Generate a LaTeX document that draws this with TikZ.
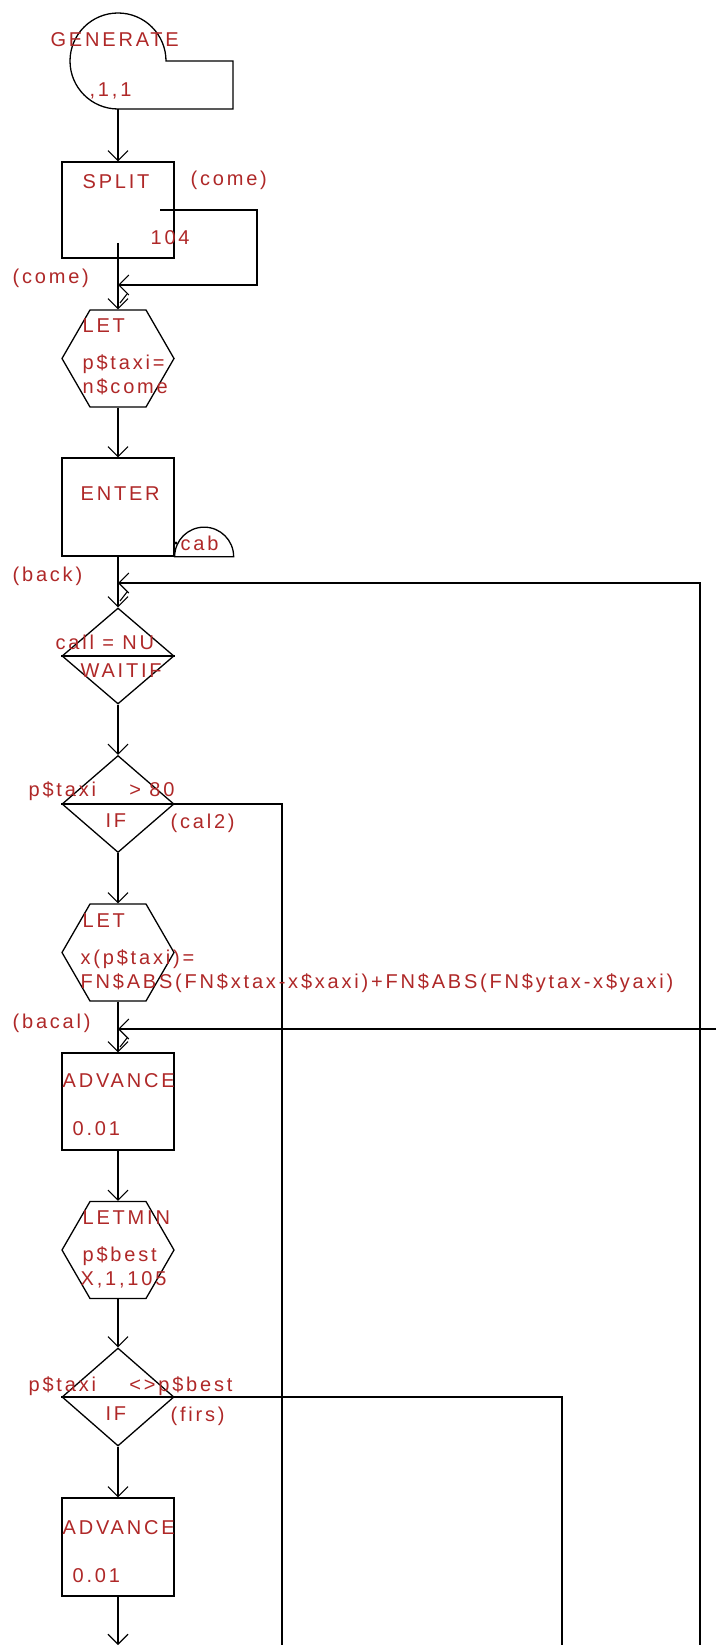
\documentclass[tikz,border=0pt]{standalone}
\usepackage{fontspec}
\setmainfont{Liberation Sans}[LetterSpace=14]
\usetikzlibrary{arrows.meta,shapes.geometric}
\definecolor{txt}{RGB}{175,40,40}
\begin{document}
\begin{tikzpicture}[x=1pt,y=1pt,
  line width=1.3pt,
  tip/.style={-{Straight Barb[length=10pt,width=20pt,line width=1.1pt]}},
  box/.style={draw, rectangle, minimum width=112pt, inner sep=0pt},
  hexa/.style={draw, regular polygon, regular polygon sides=6, minimum size=112pt, inner sep=0pt},
  dia/.style={draw, diamond, minimum width=112pt, inner sep=0pt},
  lbl/.style={anchor=base west, inner sep=0pt, text=txt, font=\fontsize{20}{24}\selectfont}
]
\fill[white] (0,0) rectangle (716,-1645);
\useasboundingbox (0,0) rectangle (716,-1645);

% GENERATE block
\draw (166,-61) arc[start angle=0, end angle=270, radius=48pt] -- (233,-109) -- (233,-61) -- cycle;
\coordinate (gen) at (118,-109);

% block shapes
\node[box, minimum height=96pt] (split) at (118,-210) {};
\node[hexa] (let1) at (118,-358.5) {};
\node[box, minimum height=98pt] (enter) at (118,-507) {};
\node[dia, minimum height=96pt] (wait) at (118,-656) {};
\node[dia, minimum height=97pt] (if1) at (118,-804) {};
\node[hexa] (let2) at (118,-952.5) {};
\node[box, minimum height=97pt] (adv1) at (118,-1101.5) {};
\node[hexa] (letmin) at (118,-1250) {};
\node[dia, minimum height=98pt] (if2) at (118,-1397) {};
\node[box, minimum height=98pt] (adv2) at (118,-1547) {};

% middle lines of decision blocks
\draw (wait.west) -- (wait.east);
\draw (if1.west) -- (if1.east);
\draw (if2.west) -- (if2.east);

% storage half circle of ENTER
\draw (enter.south east) arc[start angle=180, end angle=0, radius=29.5pt] -- cycle;
\fill (176,-543) circle (1.6pt);

% coordinates
\coordinate (splitout) at (160,-210);
\coordinate (splitin) at (118,-243);
\coordinate (jcome) at (118,-285);
\coordinate (jback) at (118,-583);
\coordinate (jbacal) at (118,-1029);
\coordinate (backend) at (700,-1645);
\coordinate (bacalend) at (716,-1029);
\coordinate (cal2end) at (282,-1645);
\coordinate (firsend) at (562,-1645);
\coordinate (outend) at (118,-1645);

% main flow
\draw[tip] (gen) -- (split.north);
\draw[tip] (splitin) -- (let1.north);
\draw[tip] (let1.south) -- (enter.north);
\draw[tip] (enter.south) -- (wait.north);
\draw[tip] (wait.south) -- (if1.north);
\draw[tip] (if1.south) -- (let2.north);
\draw[tip] (let2.south) -- (adv1.north);
\draw[tip] (adv1.south) -- (letmin.north);
\draw[tip] (letmin.south) -- (if2.north);
\draw[tip] (if2.south) -- (adv2.north);
\draw[tip] (adv2.south) -- (outend);

% loops and branches
\draw[tip] (splitout) -- (257,-210) |- (jcome);
\draw[tip] (backend) |- (jback);
\draw[tip] (bacalend) -- (jbacal);
\draw (if1.east) -- (282,-804) -- (cal2end);
\draw (if2.east) -- (562,-1397) -- (firsend);

% kinks below junction arrows
\draw[line width=1.1pt] (jcome) ++(9,-9) -- ++(-7,-9);
\draw[line width=1.1pt] (jback) ++(9,-9) -- ++(-7,-9);
\draw[line width=1.1pt] (jbacal) ++(9,-9) -- ++(-7,-9);

% texts
\node[lbl] (t1) at (50,-47) {GENERATE};
\node[lbl] (t2) at (89,-97) {,1,1};
\node[lbl] (t3) at (82,-189) {SPLIT};
\node[lbl] (t4) at (190,-186) {(come)};
\node[lbl] (t5) at (150,-244) {104};
\node[lbl] (t6) at (12,-283) {(come)};
\node[lbl] (t7) at (82,-332) {LET};
\node[lbl] (t8) at (82,-369) {p\$taxi=};
\node[lbl] (t9) at (82,-393) {n\$come};
\node[lbl] (t10) at (80,-500) {ENTER};
\node[lbl] (t11) at (180,-550) {cab};
\node[lbl] (t12) at (12,-581) {(back)};
\node[lbl] (t13) at (55,-649) {call = NU};
\node[lbl] (t14) at (80,-677) {WAITIF};
\node[lbl] (t15) at (28,-796) {p\$taxi\ \ \ \ > 80};
\node[lbl] (t16) at (105,-827) {IF};
\node[lbl] (t17) at (170,-828) {(cal2)};
\node[lbl] (t18) at (82,-927) {LET};
\node[lbl] (t19) at (80,-964) {x(p\$taxi)=};
\node[lbl] (t20) at (80,-988) {FN\$ABS(FN\$xtax-x\$xaxi)+FN\$ABS(FN\$ytax-x\$yaxi)};
\node[lbl] (t21) at (12,-1028) {(bacal)};
\node[lbl] (t22) at (62,-1087) {ADVANCE};
\node[lbl] (t23) at (72,-1135) {0.01};
\node[lbl] (t24) at (82,-1224) {LETMIN};
\node[lbl] (t25) at (82,-1261) {p\$best};
\node[lbl] (t26) at (80,-1285) {X,1,105};
\node[lbl] (t27) at (28,-1391) {p\$taxi\ \ \ \ <>p\$best};
\node[lbl] (t28) at (105,-1420) {IF};
\node[lbl] (t29) at (170,-1421) {(firs)};
\node[lbl] (t30) at (62,-1534) {ADVANCE};
\node[lbl] (t31) at (72,-1582) {0.01};
\end{tikzpicture}
\end{document}
